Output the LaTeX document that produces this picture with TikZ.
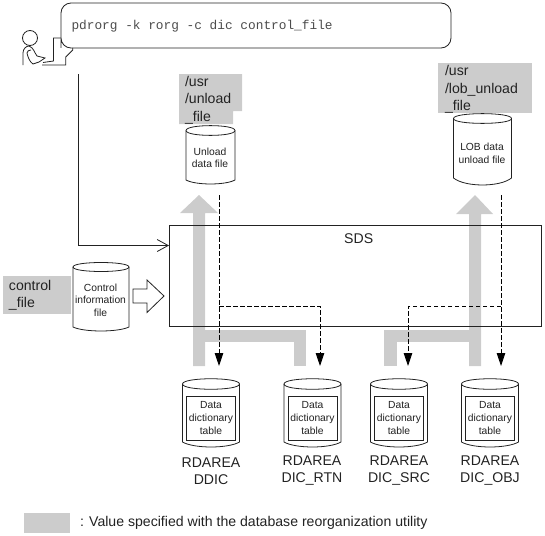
\documentclass[tikz,border=0pt]{standalone}
\usepackage{fontspec}
\setmainfont{Liberation Sans}
\setmonofont{Liberation Mono}
\usetikzlibrary{arrows.meta}
\definecolor{gb}{HTML}{CCCCCC}
\definecolor{ln}{HTML}{222222}
\tikzset{
  x=1pt,y=-1pt,
  every node/.style={inner sep=0pt,outer sep=0pt,text=ln},
  lbl/.style={font=\fontsize{14.1}{17.5}\selectfont,align=left,anchor=north west},
  small/.style={font=\fontsize{10.3}{12.6}\selectfont,align=center},
  rd/.style={font=\fontsize{14.1}{17}\selectfont,align=center},
  inbox/.style={draw=ln,line width=.9pt,minimum width=49pt,minimum height=44pt,font=\fontsize{10.3}{12.6}\selectfont,align=center},
  lin/.style={draw=ln,line width=.8pt},
  dsh/.style={draw=black,line width=.9pt,dash pattern=on 4.5pt off 2.5pt},
  dsharrow/.style={dsh,-{Triangle[length=13pt,width=8.5pt,fill=black]}},
  gbar/.style={fill=gb,draw=none}
}
% cx, top of cap, bottom of cap, end of the side, lowest point, half width
\newcommand{\cyl}[6]{%
  \pgfmathsetmacro{\ymid}{(#2+#3)/2}
  \draw[lin,fill=white] (#1-#6,\ymid) .. controls (#1-#6,#2) and (#1+#6,#2) .. (#1+#6,\ymid) -- (#1+#6,#4)
    .. controls (#1+#6*.6,{#5+(#5-#4)*.33}) and (#1-#6*.6,{#5+(#5-#4)*.33}) .. (#1-#6,#4) -- cycle;
  \draw[lin] (#1-#6,\ymid) .. controls (#1-#6,#3) and (#1+#6,#3) .. (#1+#6,\ymid);
}
\begin{document}
\begin{tikzpicture}
\useasboundingbox (0,0) rectangle (545,535);
% gray bars
\path[gbar] (193,366) -- (193,213) -- (180,213) -- (199,195) -- (218,213) -- (205,213) -- (205,366) -- cycle;
\path[gbar] (205,330) rectangle (306,342);
\path[gbar] (294,342) rectangle (306,366);
\path[gbar] (469,366) -- (469,214) -- (456,214) -- (475,195) -- (493,214) -- (481,214) -- (481,366) -- cycle;
\path[gbar] (384,330) rectangle (469,342);
\path[gbar] (384,342) rectangle (397,366);
% gray labels
\path[gbar] (179,74) -- (242,74) -- (242,111) -- (233,111) -- (233,124) -- (179,124) -- cycle;
\node[gbar,minimum width=94pt,minimum height=50pt,anchor=north west] (g2) at (438,63) {};
\node[gbar,minimum width=68pt,minimum height=38pt,anchor=north west] (g3) at (3,276) {};
\node[gbar,minimum width=46pt,minimum height=20pt,anchor=north west] (g4) at (24.3,513) {};
\node[lbl] (t1) at (185,76) {/usr\\/unload\\\_file};
\node[lbl] (t2) at (445,65.5) {/usr\\/lob\_unload\\\_file};
\node[lbl] (t3) at (9,280) {control\\\_file};
% SDS box
\node[draw=ln,line width=.8pt,minimum width=372.5pt,minimum height=101pt,anchor=north west] (sds) at (169,225) {};
\node[font=\fontsize{14.1}{17}\selectfont] (sdst) at (358.7,239) {SDS};
% person and terminal
\draw[lin,fill=white,rounded corners=10pt] (61,38) -- (61,3) -- (451,3) -- (451,48) -- (61,48) -- cycle;
\draw[lin] (61,38) -- (53.5,38) -- (53.5,61) -- (43,62.5);
\draw[lin] (42,65) -- (65.7,65) -- (65.7,57) -- (72.7,50) -- (72.7,48);
\draw[lin] (30,38) circle[radius=7.5];
\draw[lin] (23,65) -- (23,53) .. controls (23,49) and (26,46) .. (29,46);
\draw[lin] (29,46) .. controls (34,48) and (34,52) .. (37,56) -- (45,58) -- (39,62) -- (33,64) .. controls (30,62) and (28,58) .. (27,53) .. controls (27,51) and (29,50) .. (31,50);
% cylinders
\cyl{210.5}{124}{137}{180}{184}{24.5}
\node[small] (c1) at (210,158) {Unload\\data file};
\cyl{482.5}{112}{125}{178}{185}{29}
\node[small] (c2) at (482,153.5) {LOB data\\unload file};
\cyl{101}{261}{273}{327}{331}{28}
\node[small] (c3) at (100.5,300) {Control\\information\\file};
\foreach \n/\x in {a/211,b/312.5,c/399,d/490}{
  \cyl{\x}{377}{391}{442}{447}{28.5}
  \node[inbox] (\n) at (\x,418) {Data\\dictionary\\table};
}
\node[rd] (ra) at (211,471) {RDAREA\\DDIC};
\node[rd] (rb) at (312,471) {RDAREA\\DIC\_RTN};
\node[rd] (rc) at (399,471) {RDAREA\\DIC\_SRC};
\node[rd] (rd) at (490,471) {RDAREA\\DIC\_OBJ};
\node[font=\ttfamily\fontsize{12.8}{16}\selectfont,text=black!70,anchor=west] (cmd) at (71.5,26) {pdrorg -k rorg -c dic control\_file};
\node[font=\fontsize{14.1}{16}\selectfont,anchor=west] (leg) at (80,523) {: Value specified with the database reorganization utility};
% connectors
\coordinate (p0) at (78,74);
\coordinate (p1) at (78,245.5);
\draw[lin,-{Straight Barb[length=11pt,width=12pt,line width=.8pt]}] (p0) -- (p1) -- (sds.west |- p1);
\coordinate (u0) at (219,195);
\coordinate (u1) at (219,366);
\coordinate (v0) at (219,306);
\coordinate (v1) at (320,306);
\coordinate (v2) at (320,366);
\draw[dsharrow] (u0) -- (u1);
\draw[dsharrow] (v0) -- (v1) -- (v2);
\coordinate (w0) at (501,195);
\coordinate (w1) at (501,366);
\coordinate (x0) at (501,306);
\coordinate (x1) at (408,306);
\coordinate (x2) at (408,366);
\draw[dsharrow] (w0) -- (w1);
\draw[dsharrow] (x0) -- (x1) -- (x2);
% block arrow
\draw[lin,fill=white] (133,289) -- (147,289) -- (147,280) -- (164,296) -- (147,312.5) -- (147,303) -- (133,303) -- cycle;
\end{tikzpicture}
\end{document}
